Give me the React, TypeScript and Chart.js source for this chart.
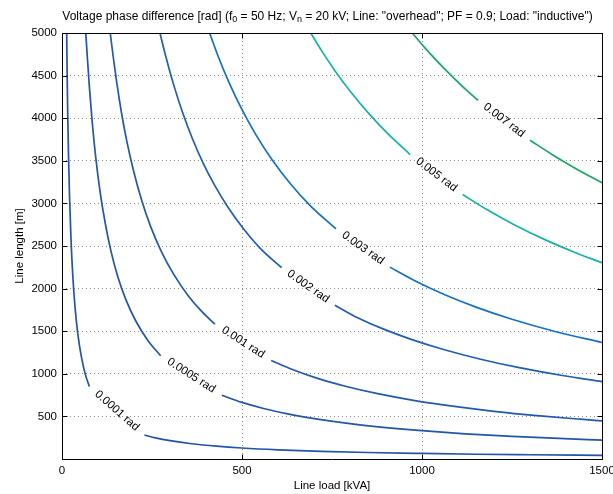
import React, { useEffect, useRef } from "react";
import { Chart, registerables } from "chart.js";

Chart.register(...registerables);

// ---- Data ----
// Contour levels
const levelLabels = ["0.0001 rad", "0.0005 rad", "0.001 rad", "0.002 rad", "0.003 rad", "0.005 rad", "0.007 rad"];

// Axis ticks
const xTickValues = [0, 500, 1000, 1500];
const yTickValues = [500, 1000, 1500, 2000, 2500, 3000, 3500, 4000, 4500, 5000];

// Each contour: line load [kVA] vs line length [m]; null marks the gap holding the label
const load0001 = [13, 14.5, 16, 18, 21, 25, 30, 36, 44, 54, 65, 76, null, 229, 260, 300, 360, 430, 500, 600, 720, 850, 1000, 1150, 1300, 1500];
const length0001 = [5000, 4450, 4030, 3580, 3070, 2580, 2150, 1790, 1465, 1195, 990, 850, null, 282, 248, 215, 179, 150, 129, 108, 90, 76, 65, 56, 50, 43];

const load0005 = [66, 70, 76, 84, 94, 106, 120, 136, 155, 178, 205, 238, 274, null, 444, 500, 560, 630, 710, 800, 900, 1000, 1120, 1250, 1380, 1500];
const length0005 = [5000, 4740, 4370, 3950, 3530, 3130, 2770, 2440, 2140, 1865, 1620, 1395, 1212, null, 748, 664, 593, 527, 468, 415, 369, 332, 296, 266, 241, 221];

const load001 = [134, 142, 152, 165, 180, 198, 220, 246, 276, 310, 350, 390, 425, null, 581, 640, 710, 790, 880, 980, 1090, 1200, 1320, 1440, 1500];
const length001 = [5000, 4730, 4420, 4070, 3730, 3395, 3055, 2730, 2435, 2170, 1920, 1723, 1582, null, 1157, 1050, 946, 851, 764, 686, 617, 560, 509, 467, 448];

const load002 = [272, 290, 310, 335, 362, 392, 425, 462, 503, 550, 610, null, 758, 820, 890, 970, 1060, 1160, 1270, 1390, 1500];
const length002 = [5000, 4697, 4394, 4066, 3762, 3474, 3205, 2948, 2708, 2476, 2245, null, 1805, 1661, 1530, 1404, 1285, 1174, 1072, 980, 908];

const load003 = [410, 435, 465, 500, 540, 585, 635, 690, 761, null, 911, 980, 1060, 1150, 1250, 1370, 1500];
const length003 = [5000, 4713, 4409, 4100, 3796, 3504, 3228, 2971, 2700, null, 2252, 2092, 1934, 1783, 1640, 1496, 1367];

const load005 = [691, 720, 760, 800, 850, 905, 967, null, 1113, 1180, 1260, 1340, 1420, 1500];
const length005 = [5000, 4799, 4546, 4319, 4065, 3818, 3573, null, 3104, 2928, 2742, 2578, 2433, 2303];

const load007 = [973, 1010, 1060, 1110, 1156, null, 1300, 1360, 1430, 1500];
const length007 = [5000, 4817, 4590, 4383, 4208, null, 3742, 3577, 3402, 3243];

// ---- Styles ----
const lineColors = ["#2354a6", "#2256aa", "#2159ad", "#1e5fb3", "#1271c5", "#14b3a8", "#17a866"];
const FONT = '"Liberation Sans", Arial, Helvetica, sans-serif';

type Pt = { x: number; y: number };

export default function App() {
  const canvasRef = useRef<HTMLCanvasElement>(null);

  useEffect(() => {
    const canvas = canvasRef.current;
    if (!canvas) return;

    const curves = [
      { x: load0001, y: length0001 },
      { x: load0005, y: length0005 },
      { x: load001, y: length001 },
      { x: load002, y: length002 },
      { x: load003, y: length003 },
      { x: load005, y: length005 },
      { x: load007, y: length007 },
    ];

    const datasets: any[] = [];
    const gaps: { a: Pt; b: Pt; label: string }[] = [];

    curves.forEach((c, i) => {
      const segs: Pt[][] = [];
      let seg: Pt[] = [];
      c.x.forEach((xv, j) => {
        const yv = c.y[j];
        if (xv === null || yv === null) {
          segs.push(seg);
          seg = [];
        } else {
          seg.push({ x: xv as number, y: yv as number });
        }
      });
      segs.push(seg);
      segs.forEach((s) => {
        datasets.push({
          data: s,
          showLine: true,
          borderColor: lineColors[i],
          backgroundColor: lineColors[i],
          borderWidth: 1.7,
          pointRadius: 0,
          pointHoverRadius: 0,
          cubicInterpolationMode: "monotone",
          fill: false,
        });
      });
      if (segs.length > 1) {
        const a = segs[0][segs[0].length - 1];
        const b = segs[1][0];
        gaps.push({ a, b, label: levelLabels[i] });
      }
    });

    const labelPlugin = {
      id: "contourLabels",
      afterDatasetsDraw(chart: any) {
        const { ctx } = chart;
        const xs = chart.scales.x;
        const ys = chart.scales.y;
        ctx.save();
        ctx.font = `11.5px ${FONT}`;
        ctx.fillStyle = "#000";
        ctx.textAlign = "center";
        ctx.textBaseline = "middle";
        gaps.forEach((g) => {
          const x1 = xs.getPixelForValue(g.a.x);
          const y1 = ys.getPixelForValue(g.a.y);
          const x2 = xs.getPixelForValue(g.b.x);
          const y2 = ys.getPixelForValue(g.b.y);
          const ang = Math.atan2(y2 - y1, x2 - x1);
          ctx.save();
          ctx.translate((x1 + x2) / 2, (y1 + y2) / 2);
          ctx.rotate(ang);
          ctx.fillText(g.label, 0, 0);
          ctx.restore();
        });
        ctx.restore();
      },
    };

    const framePlugin = {
      id: "frameAndTitle",
      afterDraw(chart: any) {
        const { ctx, chartArea } = chart;
        const xs = chart.scales.x;
        const ys = chart.scales.y;
        const L = Math.round(chartArea.left) + 0.5;
        const R = Math.round(chartArea.right) + 0.5;
        const T = Math.round(chartArea.top) + 0.5;
        const B = Math.round(chartArea.bottom) + 0.5;
        ctx.save();
        ctx.strokeStyle = "#000";
        ctx.lineWidth = 1;
        ctx.beginPath();
        ctx.rect(L, T, R - L, B - T);
        const tl = 5;
        xTickValues.forEach((v) => {
          const px = Math.round(xs.getPixelForValue(v)) + 0.5;
          ctx.moveTo(px, B);
          ctx.lineTo(px, B - tl);
          ctx.moveTo(px, T);
          ctx.lineTo(px, T + tl);
        });
        yTickValues.forEach((v) => {
          const py = Math.round(ys.getPixelForValue(v)) + 0.5;
          ctx.moveTo(L, py);
          ctx.lineTo(L + tl, py);
          ctx.moveTo(R, py);
          ctx.lineTo(R - tl, py);
        });
        ctx.stroke();

        // Title with subscripts
        const mainFont = `12px ${FONT}`;
        const subFont = `9px ${FONT}`;
        const pieces: { t: string; sub: boolean }[] = [
          { t: "Voltage phase difference [rad] (f", sub: false },
          { t: "0", sub: true },
          { t: " = 50 Hz; V", sub: false },
          { t: "n", sub: true },
          { t: ' = 20 kV; Line: "overhead"; PF = 0.9; Load: "inductive")', sub: false },
        ];
        let total = 0;
        pieces.forEach((p) => {
          ctx.font = p.sub ? subFont : mainFont;
          total += ctx.measureText(p.t).width;
        });
        const center = (chartArea.left + chartArea.right) / 2 - 4.5;
        let x = center - total / 2;
        const base = 19.5;
        ctx.fillStyle = "#000";
        ctx.textAlign = "left";
        ctx.textBaseline = "alphabetic";
        pieces.forEach((p) => {
          ctx.font = p.sub ? subFont : mainFont;
          ctx.fillText(p.t, x, p.sub ? base + 2.5 : base);
          x += ctx.measureText(p.t).width;
        });
        ctx.restore();
      },
    };

    const chart = new Chart(canvas, {
      type: "scatter",
      data: { datasets },
      options: {
        responsive: false,
        animation: false,
        devicePixelRatio: 1,
        layout: { padding: { top: 33, right: 11, left: 0, bottom: 0 } },
        plugins: {
          legend: { display: false },
          tooltip: { enabled: false },
          title: { display: false },
        },
        scales: {
          x: {
            type: "linear",
            min: 0,
            max: 1500,
            ticks: {
              stepSize: 500,
              padding: 5,
              color: "#000",
              font: { family: FONT, size: 11.5 },
              maxRotation: 0,
              autoSkip: false,
              callback: (v: any) => String(v),
            },
            grid: { color: "#8c8c8c", lineWidth: 1, drawTicks: false },
            border: { display: false, dash: [1, 3] },
            title: {
              display: true,
              text: "Line load [kVA]",
              color: "#000",
              font: { family: FONT, size: 11.5 },
              padding: { top: 0, bottom: 1.6 },
            },
            afterFit: (s: any) => {
              s.height = 35;
              s.paddingLeft = 0;
              s.paddingRight = 0;
            },
          },
          y: {
            type: "linear",
            min: 0,
            max: 5000,
            ticks: {
              stepSize: 500,
              padding: 5,
              color: "#000",
              font: { family: FONT, size: 11.5 },
              autoSkip: false,
              callback: (v: any) => (v === 0 ? "" : String(v)),
            },
            grid: { color: "#8c8c8c", lineWidth: 1, drawTicks: false },
            border: { display: false, dash: [1, 3] },
            title: {
              display: true,
              text: "Line length [m]",
              color: "#000",
              font: { family: FONT, size: 11.5 },
              padding: { top: 13, bottom: 0 },
            },
            afterFit: (s: any) => {
              s.width = 62;
              s.paddingTop = 0;
              s.paddingBottom = 0;
            },
          },
        },
      } as any,
      plugins: [labelPlugin, framePlugin],
    });

    return () => {
      chart.destroy();
    };
  }, []);

  return (
    <div style={{ position: "absolute", left: 0, top: 0, width: 613, height: 494, background: "#fff" }}>
      <canvas ref={canvasRef} width={613} height={494} style={{ display: "block" }} />
    </div>
  );
}
